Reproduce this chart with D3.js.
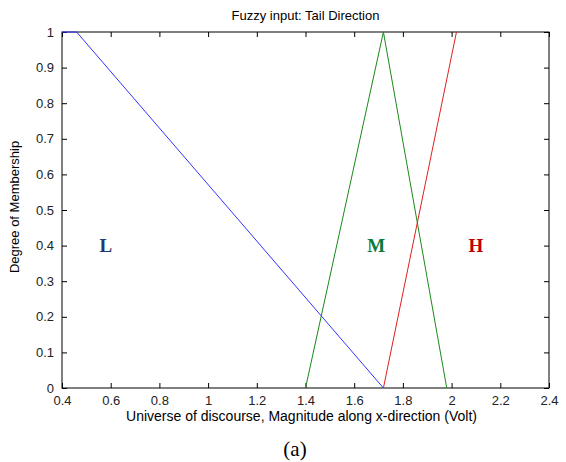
<!DOCTYPE html>
<html>
<head>
<meta charset="utf-8">
<script src="https://cdn.jsdelivr.net/npm/d3@7"></script>
<style>
  body { margin: 0; background: #fff; }
</style>
</head>
<body>
<div id="my_dataviz"></div>
<script>
// membership functions (x, degree)
var lowX = [0.4, 0.46, 1.72], lowY = [1, 1, 0];
var medX = [1.4, 1.72, 1.98], medY = [0, 1, 0];
var highX = [1.72, 2.02], highY = [0, 1];
var xTicks = [0.4, 0.6, 0.8, 1, 1.2, 1.4, 1.6, 1.8, 2, 2.2, 2.4];
var yTicks = [0, 0.1, 0.2, 0.3, 0.4, 0.5, 0.6, 0.7, 0.8, 0.9, 1];
var labels = ["L", "M", "H"], labelX = [0.58, 1.69, 2.1], labelY = [0.4, 0.4, 0.4];
var labelColors = ["#1f3a6e", "#0b7a3e", "#c00000"];

var sans = "'Liberation Sans', Arial, sans-serif",
    serif = "'Liberation Serif', 'Times New Roman', serif";

var margin = {top: 32, right: 17, bottom: 74, left: 62},
    width = 566 - margin.left - margin.right,
    height = 462 - margin.top - margin.bottom;

var svg = d3.select("#my_dataviz")
  .append("svg")
    .attr("width", 566)
    .attr("height", 462)
  .append("g")
    .attr("transform", "translate(" + margin.left + "," + margin.top + ")");

var x = d3.scaleLinear().domain([0.4, 2.4]).range([0, width]);
var y = d3.scaleLinear().domain([0, 1]).range([height, 0]);

// box
svg.append("rect")
  .attr("width", width).attr("height", height)
  .attr("fill", "none").attr("stroke", "#000").attr("stroke-width", 1);

// axes with inward ticks
var fmt = function(d) { return d3.format("")(+d.toFixed(1)); };
svg.append("g")
  .attr("transform", "translate(0," + height + ")")
  .call(d3.axisBottom(x).tickValues(xTicks).tickSizeInner(-5).tickSizeOuter(0).tickPadding(8).tickFormat(fmt))
  .call(function(g) { g.select(".domain").remove(); });
svg.append("g")
  .call(d3.axisTop(x).tickValues(xTicks).tickSizeInner(-5).tickSizeOuter(0).tickFormat(""))
  .call(function(g) { g.select(".domain").remove(); });
svg.append("g")
  .call(d3.axisLeft(y).tickValues(yTicks).tickSizeInner(-5).tickSizeOuter(0).tickPadding(8).tickFormat(fmt))
  .call(function(g) { g.select(".domain").remove(); });
svg.append("g")
  .attr("transform", "translate(" + width + ",0)")
  .call(d3.axisRight(y).tickValues(yTicks).tickSizeInner(-5).tickSizeOuter(0).tickFormat(""))
  .call(function(g) { g.select(".domain").remove(); });

svg.selectAll(".tick text")
  .style("font-family", sans).style("font-size", "13px").attr("fill", "#222");

// lines
var line = d3.line().x(function(d) { return x(d[0]); }).y(function(d) { return y(d[1]); });
var series = [
  {xs: lowX, ys: lowY, color: "#3333ff"},
  {xs: medX, ys: medY, color: "#1a8a1a"},
  {xs: highX, ys: highY, color: "#e02020"}
];
series.forEach(function(s) {
  svg.append("path")
    .datum(s.xs.map(function(v, i) { return [v, s.ys[i]]; }))
    .attr("d", line)
    .attr("fill", "none")
    .attr("stroke", s.color)
    .attr("stroke-width", 1);
});

// set labels
svg.selectAll(".setlabel")
  .data(labels)
  .enter()
  .append("text")
    .attr("x", function(d, i) { return x(labelX[i]); })
    .attr("y", function(d, i) { return y(labelY[i]); })
    .attr("dy", "0.35em")
    .attr("text-anchor", "middle")
    .style("font-family", serif)
    .style("font-weight", "bold")
    .style("font-size", "19px")
    .attr("fill", function(d, i) { return labelColors[i]; })
    .text(function(d) { return d; });

// titles
svg.append("text")
  .attr("x", width / 2).attr("y", -12)
  .attr("text-anchor", "middle")
  .style("font-family", sans).style("font-size", "13px")
  .text("Fuzzy input: Tail Direction");

svg.append("text")
  .attr("x", width / 2 - 4).attr("y", height + 33)
  .attr("text-anchor", "middle")
  .style("font-family", sans).style("font-size", "14px")
  .text("Universe of discourse, Magnitude along x-direction (Volt)");

svg.append("text")
  .attr("transform", "rotate(-90)")
  .attr("x", -height / 2 + 3).attr("y", -43)
  .attr("text-anchor", "middle")
  .style("font-family", sans).style("font-size", "13px")
  .text("Degree of Membership");

svg.append("text")
  .attr("x", 233).attr("y", height + 68)
  .attr("text-anchor", "middle")
  .style("font-family", serif).style("font-size", "21px")
  .text("(a)");
</script>
</body>
</html>
